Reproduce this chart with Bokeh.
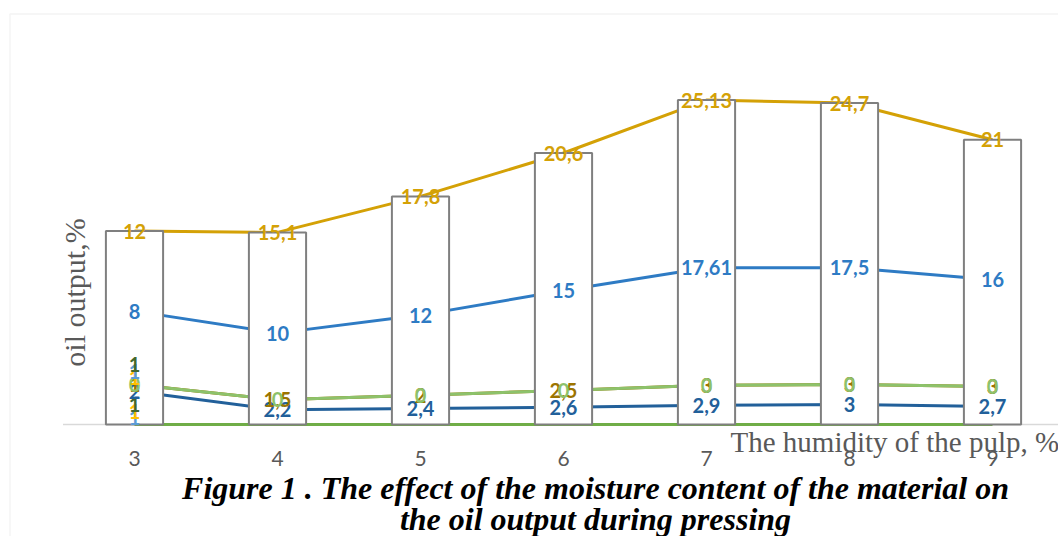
import math
import numpy as np
from bokeh.plotting import figure
from bokeh.models import Range1d, Label, BoxAnnotation, ColumnDataSource
from bokeh.core.properties import value
from bokeh.embed import file_html
from bokeh.resources import INLINE

# ---------------- data ----------------
humidity = [3, 4, 5, 6, 7, 8, 9]
tick_labels = ["3", "4", "5", "6", "7", "8", "9"]

green_base = [0, 0, 0, 0, 0, 0, 0]
low_lightblue = [1, None, None, None, None, None, None]
low_yellow = [1, None, None, None, None, None, None]
low_darkgreen = [1, None, None, None, None, None, None]
dark_blue = [2, 2.2, 2.4, 2.6, 2.9, 3, 2.7]
brown = [1, 1.5, 2, 2.5, 3, 3, 3]
light_green = [0, 0, 0, 0, 0, 0, 0]
up_yellow = [1, None, None, None, None, None, None]
up_lightblue = [1, None, None, None, None, None, None]
up_darkgreen = [1, None, None, None, None, None, None]
blue = [8, 10, 12, 15, 17.61, 17.5, 16]
gold = [12, 15.1, 17.8, 20.6, 25.13, 24.7, 21]

y_title = "oil output,%"
x_title = "The humidity of the pulp, %"
caption_1 = "Figure 1 . The effect of the moisture content of the material on"
caption_2 = "the oil output during pressing"

# (values, colour, draw line, draw labels) in stacking order, bottom -> top
series = [
    (green_base, "#70AD47", True, False),
    (low_lightblue, "#5B9BD5", False, True),
    (low_yellow, "#FFC000", False, True),
    (low_darkgreen, "#43682B", False, True),
    (dark_blue, "#22609A", True, True),
    (brown, "#9C7400", True, True),
    (light_green, "#8DC26B", True, True),
    (up_yellow, "#FFC000", False, True),
    (up_lightblue, "#5B9BD5", False, True),
    (up_darkgreen, "#43682B", False, True),
    (blue, "#2E7BC4", True, True),
    (gold, "#D4A106", True, True),
]

# ---------------- layout ----------------
W, H = 1058, 536
PXX, PXY = 143.0, 6.67
BASE_Y = 424.0
LEFT_EDGE = 62.5
x_start = humidity[0] - 0.5 - LEFT_EDGE / PXX
x_end = x_start + W / PXX
y_end = BASE_Y / PXY
y_start = -(H - BASE_Y) / PXY


def cx(px):
    return x_start + px / PXX


def cy(py):
    return (BASE_Y - py) / PXY


p = figure(width=W, height=H, x_range=Range1d(x_start, x_end), y_range=Range1d(y_start, y_end),
           output_backend="svg", toolbar_location=None, x_axis_location=None, y_axis_location=None,
           min_border=0, min_border_left=0, min_border_right=0, min_border_top=0, min_border_bottom=0)
p.grid.visible = False
p.outline_line_color = None
p.background_fill_color = "white"
p.border_fill_color = "white"

# outer chart border
p.add_layout(BoxAnnotation(left=cx(9.5), top=cy(13.5), right=x_end + 5, bottom=y_start - 20,
                           fill_alpha=0, line_color="#D9D9D9", line_width=1.5))

# axis line
p.segment(x0=[humidity[0] - 0.5], y0=[0], x1=[humidity[-1] + 0.6], y1=[0],
          line_color="#D9D9D9", line_width=1.5)

# stacked cumulative values
x = np.array(humidity, dtype=float)
cum = np.zeros(len(x))
cums = []
for vals, col, has_line, has_lab in series:
    v = np.array([0.0 if a is None else a for a in vals])
    cum = cum + v
    cums.append(cum.copy())

total = cums[-1]

# lines
for (vals, col, has_line, has_lab), c in zip(series, cums):
    if has_line:
        p.line(x, c, line_color=col, line_width=3)

# bars (white, cover the lines)
p.vbar(x=x, top=total, bottom=0, width=0.4, fill_color="white",
       line_color="#7F7F7F", line_width=2)

# data labels
for (vals, col, has_line, has_lab), c in zip(series, cums):
    if not has_lab:
        continue
    xs, ys, ts = [], [], []
    for xi, vi, ci in zip(humidity, vals, c):
        if vi is None:
            continue
        xs.append(xi)
        ys.append(ci)
        ts.append(("%g" % vi).replace(".", ","))
    src = ColumnDataSource(dict(x=xs, y=ys, t=ts))
    p.text(x="x", y="y", text="t", source=src, text_color=col, text_font=value("Lato"),
           text_font_style="bold", text_font_size="20px", text_align="center",
           text_baseline="middle")

# x tick labels
p.text(x=humidity, y=[cy(458)] * len(humidity), text=tick_labels, text_color="#595959",
       text_font=value("Lato"), text_font_size="21px", text_align="center", text_baseline="middle")

# axis titles
p.add_layout(Label(x=cx(74), y=cy(292), text=y_title, angle=math.pi / 2, text_font="Liberation Serif",
                   text_font_size="30px", text_color="#595959", text_align="center",
                   text_baseline="middle"))
p.add_layout(Label(x=cx(730), y=cy(441), text=x_title, text_font="Liberation Serif",
                   text_font_size="29px", text_color="#595959", text_align="left",
                   text_baseline="middle"))

# caption
p.add_layout(Label(x=cx(595), y=cy(487), text=caption_1, text_font="Liberation Serif",
                   text_font_style="bold italic", text_font_size="32px", text_color="black",
                   text_align="center", text_baseline="middle"))
p.add_layout(Label(x=cx(595), y=cy(518), text=caption_2, text_font="Liberation Serif",
                   text_font_style="bold italic", text_font_size="32px", text_color="black",
                   text_align="center", text_baseline="middle"))

open("out.html", "w").write(file_html(p, INLINE))
